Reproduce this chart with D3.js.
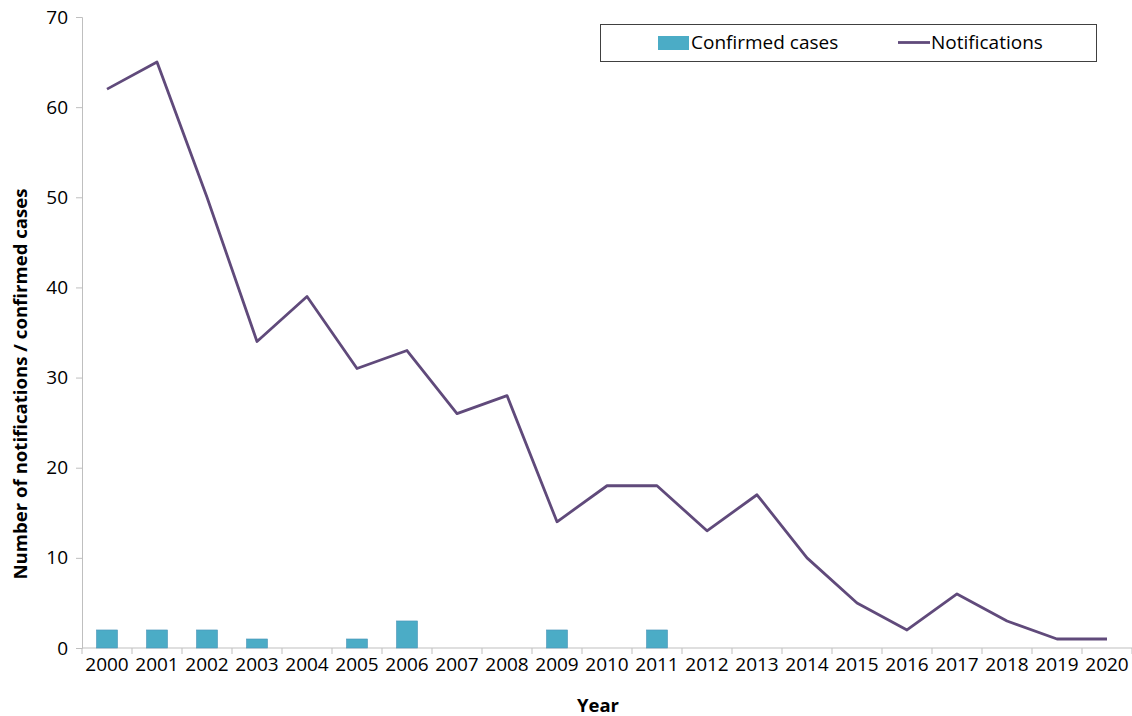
<!DOCTYPE html>
<html>
<head>
<meta charset="utf-8">
<script src="https://cdn.jsdelivr.net/npm/d3@7"></script>
<style>
  html, body { margin: 0; padding: 0; background: #fff; }
  svg { display: block; font-family: "Open Sans", "Noto Sans", sans-serif; }
</style>
</head>
<body>
<svg id="chart" width="1132" height="716"></svg>
<script>
const years = ["2000","2001","2002","2003","2004","2005","2006","2007","2008","2009","2010","2011","2012","2013","2014","2015","2016","2017","2018","2019","2020"];
const confirmedCases = [2,2,2,1,0,1,3,0,0,2,0,2,0,0,0,0,0,0,0,0,0];
const notifications = [62,65,50,34,39,31,33,26,28,14,18,18,13,17,10,5,2,6,3,1,1];
const yTicks = [0,10,20,30,40,50,60,70];

(function(){
const svg = d3.select("#chart");
const pLeft = 82, pRight = 1132, pTop = 17, pBottom = 648;

const x = d3.scaleBand().domain(years).range([pLeft, pRight]).paddingInner(0.58).paddingOuter(0.29);
const xb = d3.scaleBand().domain(years).range([pLeft, pRight]);
const y = d3.scaleLinear().domain([0, 70]).range([pBottom, pTop]);

const axisColor = "#BFBFBF";
const fs = 19;

// Y axis
const yAxis = svg.append("g").attr("transform", `translate(${pLeft},0)`)
  .call(d3.axisLeft(y).tickValues(yTicks).tickSize(6).tickPadding(8));
yAxis.select(".domain").attr("stroke", axisColor).attr("stroke-width", 1);
yAxis.selectAll(".tick line").attr("stroke", axisColor);
yAxis.selectAll(".tick text").attr("font-size", fs).attr("fill", "#000")
  .attr("font-family", "Open Sans, sans-serif");

// X axis (ticks at band boundaries)
const xg = svg.append("g");
xg.append("line").attr("x1", pLeft).attr("x2", pRight).attr("y1", pBottom).attr("y2", pBottom)
  .attr("stroke", axisColor);
const bounds = years.map(d => xb(d)).concat([xb(years[years.length-1]) + xb.bandwidth()]);
xg.selectAll("line.tk").data(bounds).join("line").attr("class","tk")
  .attr("x1", d => d).attr("x2", d => d).attr("y1", pBottom).attr("y2", pBottom + 6)
  .attr("stroke", axisColor);
xg.selectAll("text.lbl").data(years).join("text").attr("class","lbl")
  .attr("x", d => xb(d) + xb.bandwidth()/2).attr("y", pBottom + 23)
  .attr("text-anchor", "middle").attr("font-size", fs).attr("fill", "#000")
  .text(d => d);

// Bars
svg.append("g").selectAll("rect").data(years.map((d,i) => ({year: d, v: confirmedCases[i]})).filter(d => d.v > 0))
  .join("rect")
  .attr("x", d => x(d.year)).attr("width", x.bandwidth())
  .attr("y", d => y(d.v)).attr("height", d => y(0) - y(d.v))
  .attr("fill", "#4BACC6").attr("stroke", "#4A93B8").attr("stroke-width", 0.6);

// Line
const line = d3.line().x((d,i) => xb(years[i]) + xb.bandwidth()/2).y(d => y(d));
svg.append("path").datum(notifications).attr("d", line)
  .attr("fill", "none").attr("stroke", "#604A7B").attr("stroke-width", 2.8)
  .attr("stroke-linejoin", "round");

// Axis titles
svg.append("text").attr("x", 598).attr("y", 712).attr("text-anchor", "middle")
  .attr("font-size", 18.5).attr("font-weight", "bold").text("Year");
svg.append("text").attr("transform", "translate(27,384) rotate(-90)")
  .attr("text-anchor", "middle").attr("font-size", 18.6).attr("font-weight", "bold")
  .text("Number of notifications / confirmed cases");

// Legend
const lg = svg.append("g");
lg.append("rect").attr("x", 600.5).attr("y", 24.5).attr("width", 496).attr("height", 37)
  .attr("fill", "#fff").attr("stroke", "#404040").attr("stroke-width", 1);
lg.append("rect").attr("x", 658).attr("y", 36).attr("width", 31).attr("height", 14).attr("fill", "#4BACC6");
lg.append("text").attr("x", 691).attr("y", 49).attr("font-size", fs).text("Confirmed cases");
lg.append("line").attr("x1", 898).attr("x2", 930).attr("y1", 42.5).attr("y2", 42.5)
  .attr("stroke", "#604A7B").attr("stroke-width", 2.8);
lg.append("text").attr("x", 931).attr("y", 49).attr("font-size", fs).text("Notifications");
})();
</script>
</body>
</html>
